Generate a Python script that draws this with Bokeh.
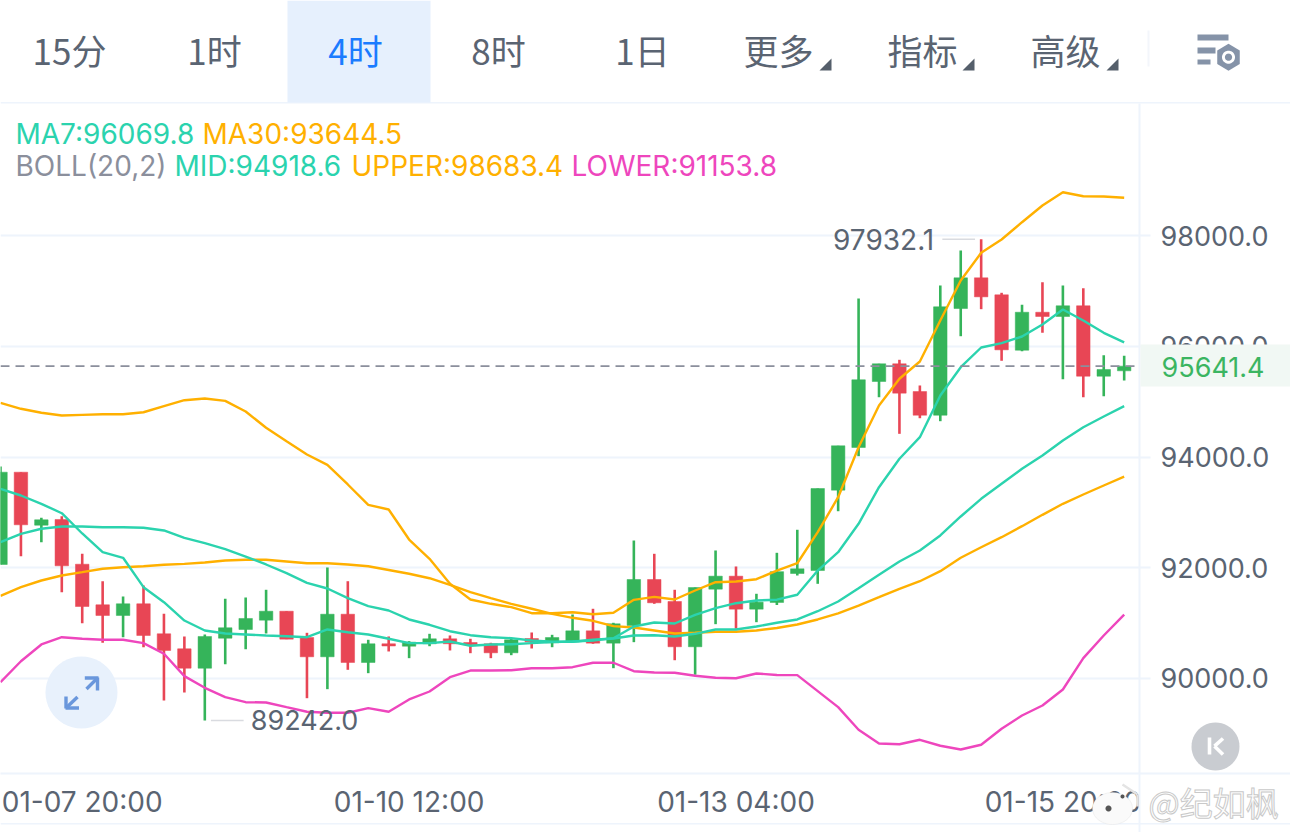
import math
from bokeh.layouts import column, row
from bokeh.plotting import figure
from bokeh.models import (BoxAnnotation, ColumnDataSource, FixedTicker, Label,
                          NumeralTickFormatter, PolyAnnotation, Range1d, Span)
from bokeh.embed import file_html
from bokeh.resources import INLINE

opens = [92059, 93726, 92769, 92872, 92064, 91331, 91138, 91349, 90807, 90536, 90186, 90728, 90885, 91053,
         91215, 90740, 90392, 91161, 90289, 90627, 90583, 90627, 90717, 90650, 90627, 90464, 90722, 90645,
         90663, 90861, 90638, 90957, 91788, 91391, 90573, 91613, 91848, 91252, 91373, 91896, 91950, 93401,
         94172, 95364, 95684, 95183, 94755, 96682, 97237, 96930, 95929, 96615, 96538, 96731, 95460, 95557]
closes = [93726, 92776, 92866, 92035, 91300, 91138, 91349, 90777, 90506, 90186, 90759, 90916, 91084, 91215,
          90710, 90392, 91161, 90289, 90627, 90587, 90656, 90717, 90627, 90609, 90464, 90699, 90663, 90740,
          90861, 90638, 90988, 91788, 91367, 90573, 91643, 91848, 91252, 91378, 91929, 91981, 93431, 94203,
          95395, 95684, 95153, 94755, 96713, 97237, 96893, 95936, 96615, 96538, 96731, 95460, 95581, 95641.4]
highs = [93829, 93726, 92902, 92931, 92252, 91757, 91481, 91680, 91168, 90759, 90795, 91439, 91463, 91602,
         91215, 90825, 92005, 91757, 90699, 90759, 90674, 90807, 90777, 90717, 90645, 90717, 90831, 90789,
         91156, 91259, 91006, 92492, 92252, 91602, 91643, 92312, 92023, 91530, 92270, 92686, 93431, 94203,
         96863, 95684, 95756, 95292, 97098, 97730, 97932.1, 96966, 96749, 97157, 97098, 97049, 95839, 95828]
lows = [92059, 92209, 92462, 91559, 90999, 90645, 90746, 90565, 89603, 89747, 89242.0, 90258, 90529, 90813,
        90710, 89644, 89807, 90157, 90096, 90488, 90367, 90583, 90506, 90457, 90367, 90421, 90542, 90565,
        90656, 90627, 90186, 90656, 91349, 90330, 90067, 90981, 90898, 91017, 91327, 91860, 91710, 93021,
        94015, 95080, 94419, 94701, 94647, 96182, 96670, 95738, 95911, 96243, 95405, 95080, 95098, 95382]
ma7 = [93426, 93305, 93155, 92985, 92619, 92281, 92180, 91649, 91378, 91047, 90867, 90813, 90795, 90777,
       90764, 90746, 90885, 90836, 90795, 90717, 90638, 90638, 90668, 90591, 90614, 90619, 90638, 90656,
       90668, 90686, 90728, 90939, 91011, 90993, 91150, 91270, 91360, 91409, 91423, 91512, 91950, 92281,
       92794, 93455, 93968, 94358, 95111, 95622, 95978, 96056, 96177, 96393, 96664, 96465, 96243, 96069.8]
ma30 = [91494, 91649, 91770, 91860, 91920, 91981, 92010, 92028, 92053, 92071, 92095, 92131, 92144, 92144,
        92113, 92082, 92082, 92059, 92028, 91960, 91891, 91811, 91692, 91559, 91450, 91349, 91259, 91168,
        91096, 91042, 90945, 90921, 90867, 90813, 90825, 90843, 90843, 90867, 90912, 90975, 91066, 91176,
        91318, 91468, 91620, 91757, 91938, 92180, 92371, 92552, 92751, 92956, 93155, 93323, 93486, 93644.5]
boll_mid = [92462, 92613, 92704, 92745, 92745, 92732, 92732, 92722, 92673, 92541, 92444, 92335, 92203, 92059,
            91902, 91728, 91625, 91450, 91306, 91228, 91066, 90970, 90854, 90782, 90746, 90728, 90686, 90663,
            90663, 90699, 90722, 90777, 90782, 90759, 90807, 90885, 90885, 90939, 91006, 91066, 91215, 91391,
            91631, 91873, 92113, 92312, 92583, 92926, 93245, 93516, 93787, 94027, 94298, 94538, 94732, 94918.6]
boll_upper = [94979, 94871, 94799, 94750, 94762, 94773, 94773, 94809, 94918, 95026, 95057, 95015, 94822, 94528,
              94286, 94045, 93859, 93504, 93137, 93052, 92510, 92162, 91710, 91427, 91349, 91288, 91179, 91179,
              91197, 91161, 91187, 91421, 91475, 91427, 91589, 91739, 91752, 91793, 91950, 92082, 92642, 93274,
              94177, 94930, 95413, 95725, 96465, 97188, 97688, 97928, 98241, 98542, 98783, 98710, 98705, 98683.4]
boll_lower = [89933, 90312, 90614, 90746, 90717, 90699, 90699, 90638, 90446, 90042, 89832, 89662, 89572, 89567,
              89482, 89399, 89381, 89381, 89464, 89399, 89621, 89765, 90023, 90144, 90144, 90150, 90186, 90186,
              90204, 90284, 90284, 90132, 90108, 90103, 90049, 90013, 90005, 90090, 90063, 90060, 89771, 89482,
              89074, 88826, 88813, 88893, 88785, 88718, 88803, 89092, 89332, 89512, 89801, 90367, 90777, 91153.8]

last_price = 95641.4
y_ticks = [90000, 92000, 94000, 96000, 98000]
x_tick_index = [4, 20, 36, 52]
x_tick_labels = ["01-07 20:00", "01-10 12:00", "01-13 04:00", "01-15 20:00"]
toolbar_items = ["15分", "1时", "4时", "8时", "1日", "更多", "指标", "高级"]

GREEN, RED = "#35b45a", "#e84655"
TEAL, ORANGE, PINK, GREY = "#2bd3ae", "#ffb000", "#ee46bd", "#8b8f9c"
GRID, INK = "#eef4fc", "#5a6472"
CJK, NUM = "Noto Sans CJK SC", "Inter"

p = figure(width=1290, height=832, output_backend="svg", toolbar_location=None,
           x_range=Range1d(0, 55.75), y_range=Range1d(88284, 100385),
           min_border_left=0, min_border_right=151, min_border_top=103, min_border_bottom=59,
           x_axis_location="below", y_axis_location="right")
p.outline_line_color = None
p.background_fill_color = "white"
p.border_fill_color = "white"
p.xgrid.visible = False
p.ygrid.grid_line_color = GRID
p.ygrid.grid_line_width = 2
p.ygrid.ticker = FixedTicker(ticks=y_ticks)

ya = p.yaxis[0]
ya.ticker = FixedTicker(ticks=y_ticks)
ya.formatter = NumeralTickFormatter(format="0.0")
ya.axis_line_color = GRID
ya.axis_line_width = 2
ya.major_tick_line_color = GRID
ya.major_tick_line_width = 2
ya.major_tick_out = 11
ya.major_tick_in = 0
ya.minor_tick_line_color = None
ya.major_label_standoff = 10
ya.major_label_text_font = NUM
ya.major_label_text_font_size = "27px"
ya.major_label_text_color = INK

xa = p.xaxis[0]
xa.ticker = FixedTicker(ticks=x_tick_index)
xa.major_label_overrides = dict(zip(x_tick_index, x_tick_labels))
xa.axis_line_color = GRID
xa.axis_line_width = 2
xa.major_tick_line_color = None
xa.minor_tick_line_color = None
xa.major_tick_out = 0
xa.major_tick_in = 0
xa.minor_tick_out = 0
xa.major_label_standoff = 11
xa.major_label_text_font = NUM
xa.major_label_text_font_size = "28px"
xa.major_label_text_color = INK

idx = list(range(len(opens)))
src = ColumnDataSource(dict(
    x=idx, open=opens, close=closes, high=highs, low=lows,
    top=[max(o, c) for o, c in zip(opens, closes)],
    bottom=[min(o, c) for o, c in zip(opens, closes)],
    color=[GREEN if c >= o else RED for o, c in zip(opens, closes)]))
p.segment("x", "high", "x", "low", source=src, color="color", line_width=2.6)
p.vbar("x", 0.66, "bottom", "top", source=src, fill_color="color", line_color="color", line_width=0.5)

for series, col in [(boll_upper, ORANGE), (ma30, ORANGE), (boll_lower, PINK), (boll_mid, TEAL), (ma7, TEAL)]:
    p.line(idx, series, line_color=col, line_width=2.4)

# last price and extreme markers, tied to the data
p.add_layout(Span(location=last_price, dimension="width", line_color=GREY, line_dash=[9, 6], line_width=1.6))
hi_i = highs.index(max(highs))
lo_i = lows.index(min(lows))
p.segment([hi_i - 0.3, lo_i + 0.3], [max(highs), min(lows)], [hi_i - 1.9, lo_i + 1.9], [max(highs), min(lows)],
          line_color="#d9dbe0", line_width=1.5)
p.add_layout(Label(x=hi_i - 2.3, y=max(highs), text=f"{max(highs):.1f}", text_color=INK, text_font=NUM,
                   text_font_size="28px", text_align="right", text_baseline="middle"))
p.add_layout(Label(x=lo_i + 2.25, y=min(lows), text=f"{min(lows):.1f}", text_color=INK, text_font=NUM,
                   text_font_size="27px", text_align="left", text_baseline="middle"))

# transparent sheet for the interface chrome that lies around the chart
ui = figure(width=1290, height=832, output_backend="svg", toolbar_location=None,
            x_range=Range1d(0, 1290), y_range=Range1d(832, 0), x_axis_type=None, y_axis_type=None,
            min_border=0)
ui.grid.visible = False
ui.outline_line_color = None
ui.background_fill_color = None
ui.border_fill_color = None


def box(x0, y0, x1, y1, color):
    ui.add_layout(BoxAnnotation(left=x0, right=x1, top=y0, bottom=y1,
                                left_units="canvas", right_units="canvas",
                                top_units="canvas", bottom_units="canvas",
                                fill_color=color, fill_alpha=1, line_color=None))


def poly(points, color, line=None):
    ui.add_layout(PolyAnnotation(xs=[a for a, _ in points], ys=[b for _, b in points],
                                 xs_units="canvas", ys_units="canvas",
                                 fill_color=color, fill_alpha=1, line_color=line))


def circle(cx, cy, rx, ry=None, n=48):
    ry = rx if ry is None else ry
    return [(cx + rx * math.cos(2 * math.pi * k / n), cy + ry * math.sin(2 * math.pi * k / n)) for k in range(n)]


def bar(x0, y0, x1, y1, w):
    dx, dy = x1 - x0, y1 - y0
    n = math.hypot(dx, dy)
    ox, oy = -dy / n * w / 2, dx / n * w / 2
    return [(x0 + ox, y0 + oy), (x1 + ox, y1 + oy), (x1 - ox, y1 - oy), (x0 - ox, y0 - oy)]


def text(s, px, py, color, size, font=NUM, align="left", **kw):
    ui.add_layout(Label(x=px, y=py, x_units="canvas", y_units="canvas", text=s, text_color=color,
                        text_font=font, text_font_size=f"{size}px", text_align=align,
                        text_baseline="middle", **kw))


# frame rules
box(0, 101.5, 1290, 103, GRID)
box(0, 822.5, 1290, 824, GRID)
box(1138, 773, 1140, 832, GRID)
box(1139, 772, 1290, 774, GRID)

# toolbar
box(287, 0, 430, 102, "#e6f0fd")
tool_x = [69, 214, 355, 498, 642, 778, 922, 1065]
for s, cx in zip(toolbar_items, tool_x):
    text(s, cx, 49, "#1b7cff" if s == "4时" else INK, 35, font=CJK, align="center")
for tx in (831, 974, 1118):
    poly([(tx, 58), (tx, 70), (tx - 12, 70)], "#555f6b")
box(1147, 30, 1149, 66, "#f3f6fb")
ICON = "#8593a8"
box(1197, 34, 1228, 40, ICON)
box(1197, 47, 1215, 53, ICON)
box(1197, 59, 1210, 64, ICON)
poly([(1228 + 13 * math.sin(math.pi / 3 * k), 56.7 + 13.5 * math.cos(math.pi / 3 * k)) for k in range(6)], ICON)
poly(circle(1228, 56.7, 6.5), "white")
poly(circle(1228, 56.7, 3.6), ICON)

# indicator read-outs
text("MA7:96069.8", 15, 133, TEAL, 28)
text("MA30:93644.5", 202, 133, ORANGE, 28)
text("BOLL(20,2)", 15, 165, GREY, 28)
text("MID:94918.6", 174, 165, TEAL, 28)
text("UPPER:98683.4", 351, 165, ORANGE, 28)
text("LOWER:91153.8", 571, 165, PINK, 28)

# last price tag
box(1140, 344, 1290, 386, "#f1f8f4")
text(f"{last_price:.1f}", 1161, 366, "#3bb561", 27)

# floating buttons
poly(circle(81, 692, 36), "#e8f1fc")
ARROW = "#6a97dc"
for seg in [(84.3, 677.5, 98, 677.5), (97, 677, 97, 690), (97, 677.5, 86, 688.5),
            (65.5, 696, 65.5, 708), (65, 707.5, 78.5, 707.5), (65.5, 707.5, 77, 696.5)]:
    poly(bar(*seg, 3.4), ARROW)
poly(circle(1215, 746, 24), "#c9ccd1")
poly(bar(1209, 737, 1209, 754, 3.6), "white")
poly(bar(1222.5, 738, 1214, 745.7, 3.6), "white")
poly(bar(1214, 745.7, 1222.5, 754, 3.6), "white")

# watermark
poly(circle(1112, 808, 20, 16), "#fafafa", "#d6d6d6")
poly(circle(1108, 808, 3), "#555555")
poly(circle(1122, 796, 2), "#555555")
poly(bar(1122, 784, 1137, 794, 2.5), "#e4e4e4")
poly(bar(1137, 794, 1137, 806, 2.5), "#e4e4e4")
text("@纪如枫", 1148, 801, "white", 33, font=CJK, text_outline_color="#c9c9c9")

page = column(row(p), row(ui, margin=(-832, 0, 0, 0)), spacing=0)
open("out.html", "w").write(file_html(page, INLINE))
